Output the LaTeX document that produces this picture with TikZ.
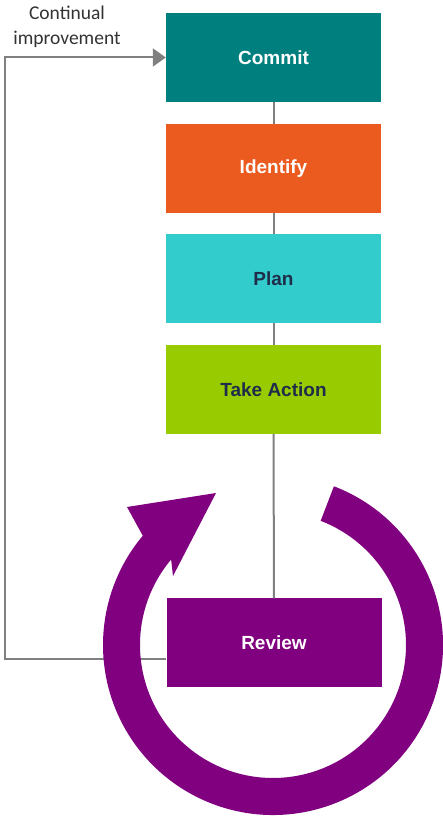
\documentclass[tikz,border=0pt]{standalone}
\usepackage{fontspec}
\setmainfont{Liberation Sans}
\newfontfamily\notefont{Carlito}
\usetikzlibrary{arrows.meta}
\definecolor{my teal}{HTML}{007F7F}
\definecolor{my orange}{HTML}{EB5A1E}
\definecolor{my cyan}{HTML}{33CCCC}
\definecolor{my green}{HTML}{99CC00}
\definecolor{my purple}{HTML}{800080}
\definecolor{my navy}{HTML}{1F2D4A}
\definecolor{my grey}{HTML}{808080}
\definecolor{my dark}{HTML}{333333}

\begin{document}
\begin{tikzpicture}[x=1pt, y=1pt,
        stage/.style={minimum width=215pt, minimum height=89pt, inner sep=0pt, font=\fontsize{19}{21}\selectfont\bfseries},
        link/.style={my grey, line width=2pt}]
                \useasboundingbox (0, 0) rectangle (443, 817);
                % feedback loop behind the ring
                \node [stage, fill=my purple, text=white] (review) at (274, 174) {Review};
                \node [stage, fill=my teal, text=white] (commit) at (273.5, 759.5) {Commit};
                \node [stage, fill=my orange, text=white] (identify) at (273.5, 648.5) {Identify};
                \node [stage, fill=my cyan, text=my navy] (plan) at (273.5, 538.5) {Plan};
                \node [stage, fill=my green, text=my navy] (action) at (273.5, 427.5) {Take Action};
                \node [font=\notefont\fontsize{19.5}{25}\selectfont, text=my dark, align=center] (note) at (67, 790) {Continual\\improvement};
                \draw [link] (commit) -- (identify);
                \draw [link] (identify) -- (plan);
                \draw [link] (plan) -- (action);
                \draw [link] (action) -- (review);
                \coordinate (loop) at (5, 158);
                \draw [link, -{Triangle[length=13pt, width=18pt]}] ([yshift=-16pt]review.west) -- (loop) |- (commit.west);
                % the purple ring
                \coordinate (hub) at (273, 172);
                \fill [my purple] ([shift={(69:170)}]hub) arc (69:-220:170) -- (127, 310) -- (216, 324) -- (173, 241) -- ([shift={(-220:133)}]hub) arc (-220:69:133) -- cycle;
\end{tikzpicture}
\end{document}
